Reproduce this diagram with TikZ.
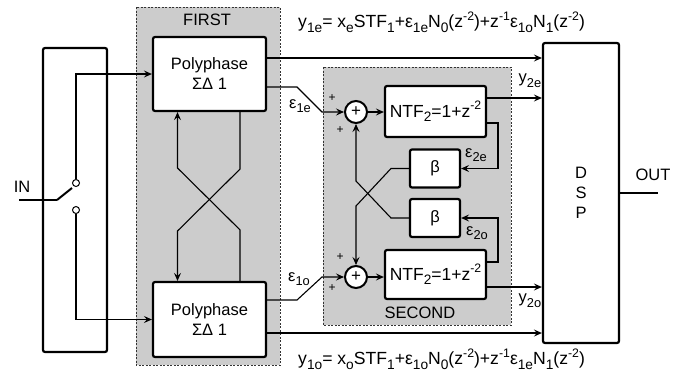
\documentclass[tikz,border=0pt]{standalone}
\usepackage{fontspec}
\usepackage{graphicx}
\setmainfont{Liberation Sans}
\usetikzlibrary{arrows.meta}
\newcommand\mysb[1]{\raisebox{-0.28em}{\scalebox{0.78}{#1}}}
\newcommand\mysp[1]{\raisebox{0.42em}{\scalebox{0.7}{#1}}}
\begin{document}
\begin{tikzpicture}[x=1pt,y=-1pt,
  blk/.style={draw,line width=2.2pt,rounded corners=2pt,fill=white,inner sep=0pt,align=center,font=\fontsize{16.5}{19}\selectfont},
  grp/.style={draw=black!80,dashed,line width=0.6pt,fill=black!20,dash pattern=on 2pt off 1.5pt},
  sumnode/.style={draw,circle,line width=2pt,fill=white,minimum size=22pt,inner sep=0pt},
  conn/.style={line width=1.1pt},
  arr/.style={conn,-{Stealth[length=8pt,width=7pt,inset=3pt]}},
  lbl/.style={font=\fontsize{16.5}{19}\selectfont,inner sep=0pt},
  eq/.style={font=\fontsize{17.6}{20}\selectfont,inner sep=0pt},
  pl/.style={font=\fontsize{12}{14}\selectfont,inner sep=0pt}]
\useasboundingbox (0,0) rectangle (695,373);
% groups
\path[grp] (136,7) rectangle (280,365);
\path[grp] (323,67) rectangle (511,325);
\node[lbl] (first) at (207,20) {FIRST};
\node[lbl] (second) at (420,313) {SECOND};
% blocks
\node[blk,minimum width=64pt,minimum height=304pt] (sw) at (75,200) {};
\node[blk,minimum width=113pt,minimum height=74pt] (p1) at (209.5,74) {Polyphase\\[1pt]ΣΔ 1};
\node[blk,minimum width=113pt,minimum height=75pt] (p2) at (209.5,319.5) {Polyphase\\[1pt]ΣΔ 1};
\node[blk,minimum width=101pt,minimum height=51pt,font=\fontsize{17.5}{20}\selectfont] (n1) at (435.5,111.5) {NTF\mysb{2}=1+z\mysp{-2}};
\node[blk,minimum width=101pt,minimum height=49pt,font=\fontsize{17.5}{20}\selectfont] (n2) at (435.5,274.5) {NTF\mysb{2}=1+z\mysp{-2}};
\node[blk,minimum width=50pt,minimum height=38pt] (b1) at (435,168.5) {β};
\node[blk,minimum width=50pt,minimum height=38pt] (b2) at (435,218) {β};
\node[sumnode] (s1) at (356,112) {};
\node[sumnode] (s2) at (356,277) {};
\node[font=\fontsize{17}{17}\selectfont,inner sep=0pt] (s1p) at (356,111.5) {+};
\node[font=\fontsize{17}{17}\selectfont,inner sep=0pt] (s2p) at (356,276.5) {+};
\node[blk,minimum width=76pt,minimum height=300pt,font=\fontsize{16.5}{20}\selectfont] (dsp) at (581,193) {D\\S\\P};
% switch
\node[draw,circle,line width=1pt,fill=white,minimum size=7pt,inner sep=0pt] (c1) at (76,183) {};
\node[draw,circle,line width=1pt,fill=white,minimum size=7pt,inner sep=0pt] (c2) at (76,210) {};
\coordinate (inA) at (19,200);
\coordinate (inB) at (57,200);
\coordinate (inC) at (72,188);
\draw[conn] (inA) -- (inB);
\draw[line width=2pt] (inB) -- (inC);
\node[lbl] (in) at (22,187) {IN};
\draw[arr] (c1.north) |- (p1.west);
\draw[arr] (c2.south) |- (p2.west);
% cross in FIRST
\draw[arr] ([xshift=30.5pt]p1.south) -- ++(0,57) -- (177.5,231) -- (p2.north -| 177.5,0);
\draw[arr] ([xshift=30.5pt]p2.north) -- ++(0,-51) -- (177.5,168) -- (p1.south -| 177.5,0);
% outputs to DSP
\draw[arr] (p1.east |- 0,58) -- (dsp.west |- 0,58);
\draw[arr] (p2.east |- 0,333) -- (dsp.west |- 0,333);
\draw[arr] (n1.east |- 0,98) -- (dsp.west |- 0,98);
\draw[arr] (n2.east |- 0,287) -- (dsp.west |- 0,287);
% epsilon 1
\draw[arr] (p1.east |- 0,87) -- (297,87) -- (322,112) -- (s1.west);
\draw[arr] (p2.east |- 0,300) -- (297,300) -- (322,277) -- (s2.west);
\draw[arr] (s1.east) -- (n1.west |- s1.east);
\draw[arr] (s2.east) -- (n2.west |- s2.east);
% feedback
\draw[arr] (n1.east |- 0,123) -- (498,123) -- (498,168.5) -- (b1.east);
\draw[arr] (n2.east |- 0,262) -- (498,262) -- (498,218) -- (b2.east);
\draw[arr] (b1.west) -- (391,168.5) -- (356,206) -- (s2.north);
\draw[arr] (b2.west) -- (391,218) -- (356,181) -- (s1.south);
% DSP out
\coordinate (out) at (658,193);
\draw[line width=2.5pt] (dsp.east) -- (out);
\node[lbl] (outl) at (653,175) {OUT};
% labels
\node[lbl] (e1e) at (300,106) {ε\mysb{1e}};
\node[lbl] (e1o) at (299,279) {ε\mysb{1o}};
\node[lbl] (e2e) at (476,155) {ε\mysb{2e}};
\node[lbl] (e2o) at (477,233) {ε\mysb{2o}};
\node[lbl] (y2e) at (530,81) {y\mysb{2e}};
\node[lbl] (y2o) at (530,301) {y\mysb{2o}};
\node[pl] (pa) at (332,98) {+};
\node[pl] (pb) at (340,130) {+};
\node[pl] (pc) at (340,257) {+};
\node[pl] (pd) at (332,288) {+};
\node[eq,anchor=west] (eqt) at (298,22) {y\mysb{1e}= x\mysb{e}STF\mysb{1}+ε\mysb{1e}N\mysb{0}(z\mysp{-2})+z\mysp{-1}ε\mysb{1o}N\mysb{1}(z\mysp{-2})};
\node[eq,anchor=west] (eqb) at (298,359) {y\mysb{1o}= x\mysb{o}STF\mysb{1}+ε\mysb{1o}N\mysb{0}(z\mysp{-2})+z\mysp{-1}ε\mysb{1e}N\mysb{1}(z\mysp{-2})};
\end{tikzpicture}
\end{document}
